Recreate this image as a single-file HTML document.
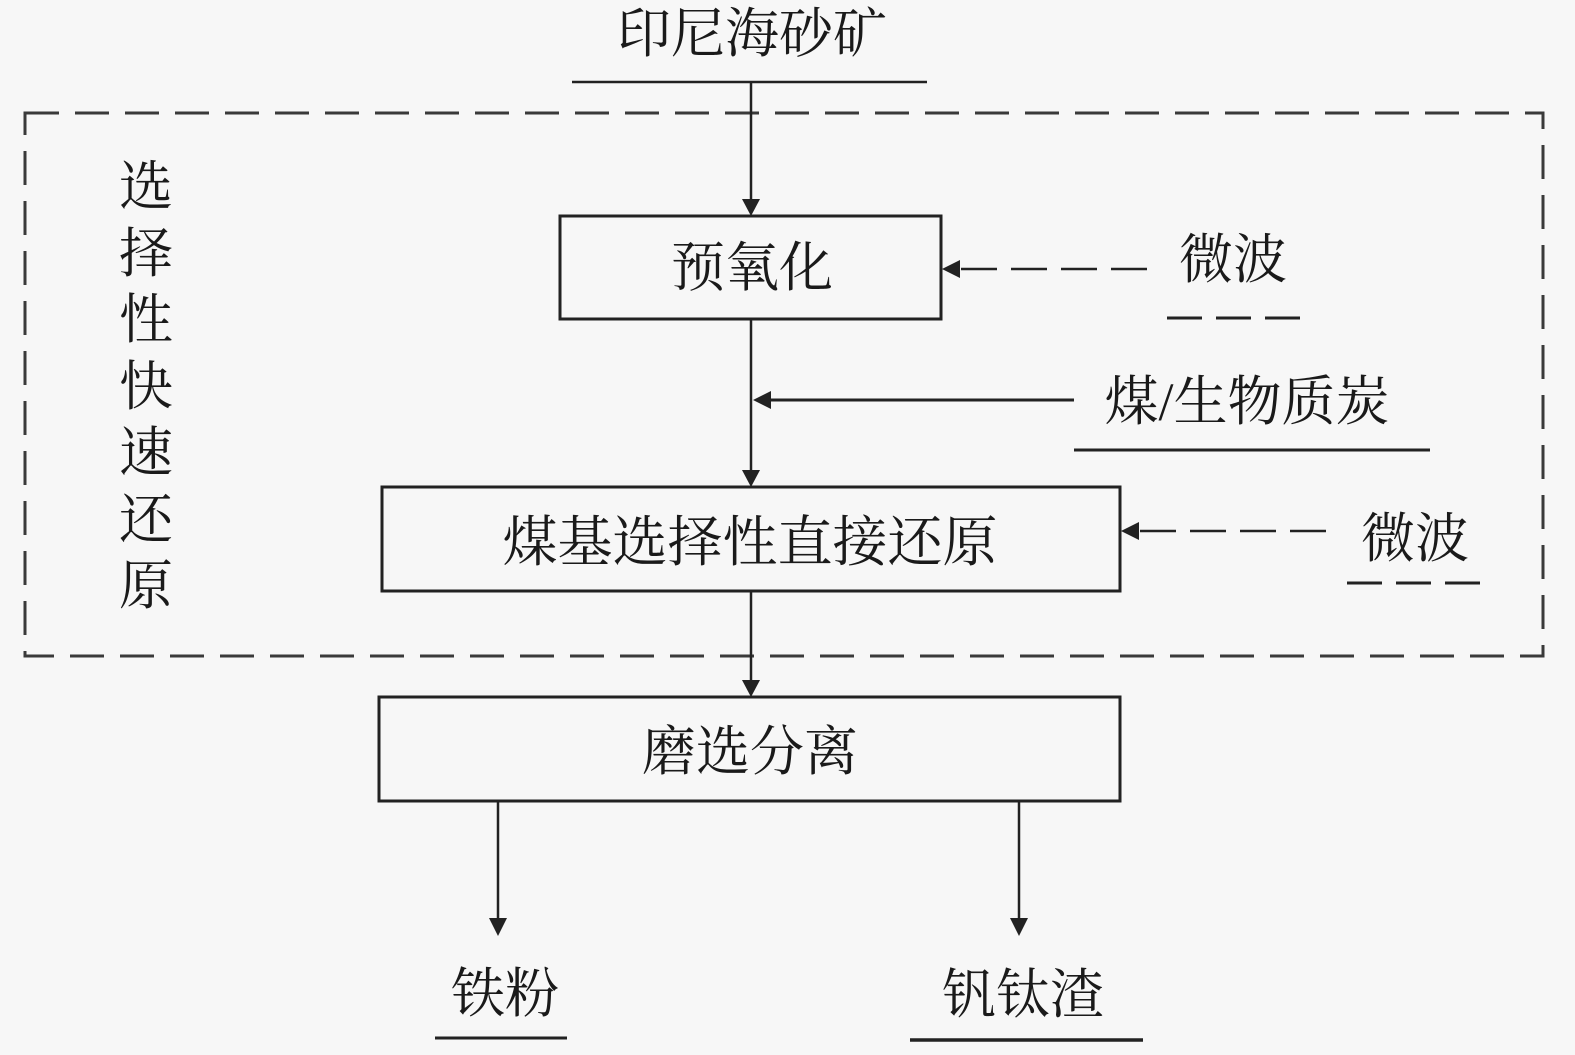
<!DOCTYPE html>
<html>
<head>
<meta charset="utf-8">
<style>
  html, body { margin:0; padding:0; background:#f7f7f7; }
  svg { display:block; }
  text { font-family: "Liberation Serif", "Noto Serif CJK SC", serif; fill:#1a1a1a; }
</style>
</head>
<body>
<svg width="1575" height="1055" viewBox="0 0 1575 1055" xmlns="http://www.w3.org/2000/svg">
  <rect x="0" y="0" width="1575" height="1055" fill="#f7f7f7"/>

  <!-- dashed group border -->
  <rect x="25" y="113" width="1518" height="543" fill="none" stroke="#3a3a3a" stroke-width="3" stroke-dasharray="34 16"/>

  <!-- top label -->
  <text x="752" y="52" font-size="54" text-anchor="middle">印尼海砂矿</text>
  <line x1="572" y1="82" x2="927" y2="82" stroke="#222" stroke-width="2.5"/>

  <!-- vertical label -->
  <g font-size="54" text-anchor="middle">
    <text x="146" y="205">选</text>
    <text x="146" y="272">择</text>
    <text x="146" y="338">性</text>
    <text x="146" y="405">快</text>
    <text x="146" y="471">速</text>
    <text x="146" y="538">还</text>
    <text x="146" y="604">原</text>
  </g>

  <!-- arrow top -> box1 -->
  <line x1="751" y1="82" x2="751" y2="202" stroke="#222" stroke-width="2.5"/>
  <polygon points="742,199 760,199 751,216" fill="#222"/>

  <!-- box1 -->
  <rect x="560" y="216" width="381" height="103" fill="none" stroke="#222" stroke-width="3"/>
  <text x="752" y="286" font-size="54" text-anchor="middle">预氧化</text>

  <!-- microwave 1 -->
  <line x1="961" y1="269" x2="1148" y2="269" stroke="#222" stroke-width="2.5" stroke-dasharray="36 14"/>
  <polygon points="942,269 960,260 960,278" fill="#222"/>
  <text x="1233" y="278" font-size="54" text-anchor="middle">微波</text>
  <line x1="1167" y1="318" x2="1302" y2="318" stroke="#222" stroke-width="3" stroke-dasharray="35 14"/>

  <!-- box1 -> box2 -->
  <line x1="751" y1="319" x2="751" y2="473" stroke="#222" stroke-width="2.5"/>
  <polygon points="742,470 760,470 751,487" fill="#222"/>

  <!-- coal / biochar -->
  <line x1="768" y1="400" x2="1074" y2="400" stroke="#222" stroke-width="3"/>
  <polygon points="753,400 771,391 771,409" fill="#222"/>
  <text x="1247" y="420" font-size="54" text-anchor="middle">煤/生物质炭</text>
  <line x1="1074" y1="450" x2="1430" y2="450" stroke="#222" stroke-width="3"/>

  <!-- box2 -->
  <rect x="382" y="487" width="738" height="104" fill="none" stroke="#222" stroke-width="3"/>
  <text x="750" y="561" font-size="55" text-anchor="middle">煤基选择性直接还原</text>

  <!-- microwave 2 -->
  <line x1="1140" y1="531" x2="1328" y2="531" stroke="#222" stroke-width="2.5" stroke-dasharray="36 14"/>
  <polygon points="1121,531 1139,522 1139,540" fill="#222"/>
  <text x="1415" y="557" font-size="54" text-anchor="middle">微波</text>
  <line x1="1347" y1="583" x2="1482" y2="583" stroke="#222" stroke-width="3" stroke-dasharray="35 14"/>

  <!-- box2 -> box3 -->
  <line x1="751" y1="591" x2="751" y2="683" stroke="#222" stroke-width="2.5"/>
  <polygon points="742,680 760,680 751,697" fill="#222"/>

  <!-- box3 -->
  <rect x="379" y="697" width="741" height="104" fill="none" stroke="#222" stroke-width="3"/>
  <text x="750" y="770" font-size="54" text-anchor="middle">磨选分离</text>

  <!-- outputs -->
  <line x1="498" y1="801" x2="498" y2="922" stroke="#222" stroke-width="2.5"/>
  <polygon points="489,918 507,918 498,936" fill="#222"/>
  <line x1="1019" y1="801" x2="1019" y2="922" stroke="#222" stroke-width="2.5"/>
  <polygon points="1010,918 1028,918 1019,936" fill="#222"/>

  <text x="505" y="1012" font-size="54" text-anchor="middle">铁粉</text>
  <line x1="435" y1="1038" x2="567" y2="1038" stroke="#222" stroke-width="3"/>
  <text x="1023" y="1013" font-size="54" text-anchor="middle">钒钛渣</text>
  <line x1="910" y1="1040" x2="1143" y2="1040" stroke="#222" stroke-width="3.5"/>
</svg>
</body>
</html>
